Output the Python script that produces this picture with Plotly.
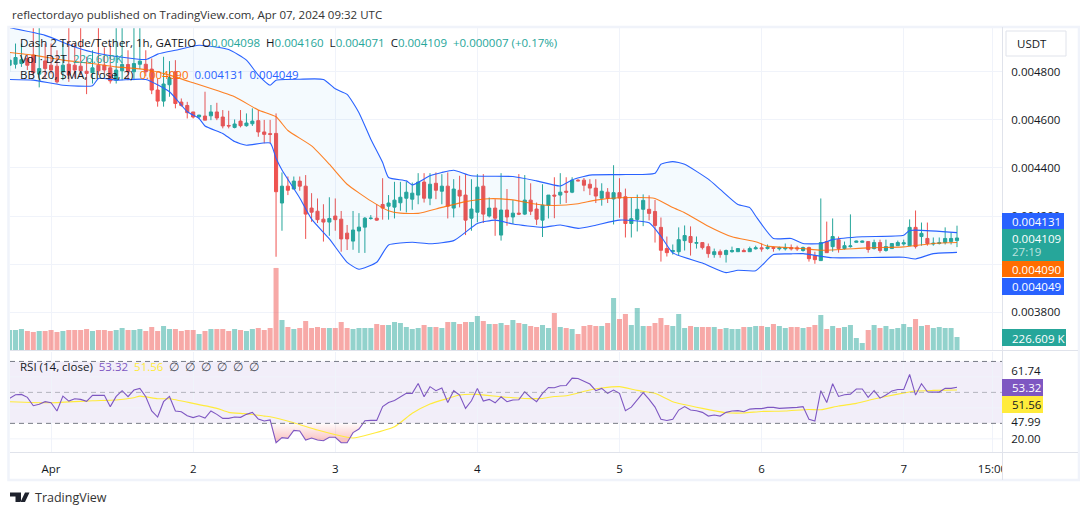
import pandas as pd
import plotly.graph_objects as go

# chart data. prices are in millionths of USDT
hours = pd.date_range("2024-03-31 17:00", periods=161, freq="h")
price_unit = 1e-6

opens = [
    4826, 4830, 4833, 4854, 4868, 4789, 4844, 4826, 4822, 4799,
    4830, 4826, 4822, 4801, 4795, 4826, 4826, 4815, 4764, 4803,
    4829, 4799, 4830, 4830, 4810, 4723, 4677, 4745, 4799, 4673,
    4659, 4632, 4612, 4615, 4616, 4632, 4611, 4576, 4568, 4594,
    4575, 4583, 4596, 4549, 4542, 4543, 4254, 4324, 4312, 4345,
    4324, 4233, 4220, 4187, 4175, 4200, 4187, 4129, 4096, 4138,
    4154, 4190, 4191, 4248, 4241, 4237, 4255, 4274, 4270, 4287,
    4341, 4274, 4336, 4303, 4324, 4233, 4307, 4287, 4191, 4216,
    4324, 4200, 4233, 4121, 4225, 4196, 4212, 4208, 4266, 4229,
    4183, 4245, 4287, 4287, 4303, 4299, 4349, 4349, 4332, 4316,
    4274, 4299, 4271, 4297, 4280, 4169, 4186, 4228, 4228, 4219,
    4153, 4065, 4052, 4052, 4098, 4115, 4087, 4090, 4073, 4040,
    4052, 4040, 4052, 4052, 4057, 4052, 4064, 4068, 4065, 4069,
    4064, 4064, 4069, 4068, 4057, 4069, 4036, 4015, 4094, 4073,
    4102, 4065, 4073, 4091, 4091, 4094, 4065, 4090, 4057, 4065,
    4077, 4084, 4077, 4153, 4115, 4107, 4084, 4086, 4090, 4094, 4098,
]
closes = [
    4847, 4858, 4849, 4826, 4795, 4812, 4812, 4806, 4757, 4826,
    4785, 4806, 4803, 4792, 4815, 4803, 4806, 4761, 4806, 4829,
    4799, 4833, 4843, 4799, 4723, 4677, 4748, 4775, 4667, 4659,
    4629, 4611, 4619, 4598, 4632, 4607, 4574, 4574, 4582, 4575,
    4586, 4594, 4549, 4539, 4539, 4301, 4324, 4307, 4345, 4324,
    4208, 4216, 4185, 4175, 4190, 4185, 4105, 4105, 4142, 4154,
    4191, 4191, 4183, 4233, 4254, 4266, 4278, 4299, 4295, 4341,
    4274, 4332, 4307, 4324, 4241, 4312, 4283, 4183, 4229, 4320,
    4208, 4233, 4191, 4225, 4196, 4212, 4208, 4266, 4220, 4187,
    4245, 4287, 4283, 4299, 4299, 4349, 4346, 4328, 4316, 4283,
    4303, 4274, 4297, 4275, 4169, 4189, 4228, 4265, 4211, 4161,
    4058, 4048, 4057, 4102, 4119, 4090, 4090, 4069, 4044, 4052,
    4040, 4057, 4057, 4065, 4052, 4065, 4068, 4064, 4071, 4066,
    4068, 4068, 4064, 4064, 4069, 4023, 4019, 4090, 4048, 4115,
    4065, 4077, 4076, 4096, 4096, 4061, 4090, 4057, 4073, 4086,
    4090, 4089, 4153, 4073, 4128, 4086, 4087, 4089, 4107, 4107, 4109,
]
highs = [
    4880, 4916, 4916, 4868, 4982, 4982, 4916, 4916, 4888, 4916,
    4982, 4916, 4982, 4861, 4888, 4982, 4900, 4916, 4982, 4982,
    4888, 4982, 4982, 4888, 4854, 4771, 4861, 4843, 4847, 4688,
    4674, 4632, 4620, 4716, 4661, 4670, 4640, 4637, 4601, 4640,
    4626, 4647, 4640, 4599, 4599, 4626, 4381, 4364, 4364, 4364,
    4370, 4295, 4273, 4249, 4278, 4273, 4221, 4163, 4221, 4212,
    4196, 4204, 4249, 4357, 4287, 4342, 4342, 4342, 4339, 4378,
    4378, 4378, 4381, 4374, 4381, 4353, 4367, 4374, 4353, 4374,
    4374, 4277, 4270, 4378, 4312, 4266, 4374, 4370, 4336, 4256,
    4332, 4287, 4361, 4378, 4361, 4361, 4353, 4358, 4353, 4353,
    4336, 4316, 4411, 4357, 4314, 4276, 4289, 4290, 4286, 4267,
    4194, 4115, 4082, 4153, 4161, 4157, 4115, 4090, 4086, 4065,
    4061, 4061, 4073, 4065, 4065, 4073, 4077, 4086, 4082, 4073,
    4073, 4086, 4082, 4077, 4073, 4073, 4052, 4273, 4177, 4190,
    4115, 4094, 4207, 4098, 4098, 4094, 4102, 4102, 4102, 4086,
    4098, 4102, 4186, 4223, 4173, 4173, 4111, 4111, 4153, 4132, 4160,
]
lows = [
    4800, 4812, 4819, 4806, 4785, 4734, 4771, 4792, 4750, 4764,
    4757, 4775, 4785, 4706, 4750, 4785, 4790, 4750, 4750, 4764,
    4764, 4764, 4810, 4780, 4706, 4654, 4654, 4695, 4647, 4654,
    4605, 4605, 4605, 4598, 4598, 4598, 4564, 4564, 4564, 4568,
    4571, 4574, 4529, 4502, 4502, 4031, 4139, 4287, 4312, 4305,
    4105, 4176, 4171, 4094, 4118, 4139, 4052, 4059, 4060, 4047,
    4047, 4185, 4180, 4185, 4185, 4190, 4222, 4215, 4226, 4249,
    4256, 4245, 4270, 4249, 4190, 4194, 4236, 4121, 4139, 4174,
    4171, 4194, 4118, 4098, 4160, 4167, 4204, 4204, 4204, 4163,
    4113, 4190, 4191, 4249, 4254, 4295, 4345, 4303, 4287, 4254,
    4243, 4254, 4165, 4193, 4111, 4111, 4136, 4158, 4182, 4090,
    4011, 4032, 4040, 4036, 4057, 4036, 4065, 4061, 4027, 4027,
    4027, 4007, 4048, 4052, 4052, 4052, 4061, 4052, 4061, 4052,
    4057, 4057, 4057, 4055, 4052, 4011, 4002, 4015, 4048, 4052,
    4048, 4061, 4069, 4090, 4090, 4048, 4061, 4048, 4052, 4065,
    4077, 4077, 4077, 4065, 4077, 4077, 4077, 4082, 4082, 4082, 4071,
]
# volume in thousands
volumes = [
    349, 349, 366, 331, 314, 331, 331, 349, 314, 331,
    349, 349, 349, 366, 331, 349, 349, 331, 349, 383,
    349, 349, 366, 331, 401, 331, 418, 366, 366, 331,
    349, 349, 279, 331, 366, 366, 366, 331, 366, 349,
    331, 366, 383, 349, 383, 1430, 523, 401, 366, 383,
    505, 383, 401, 383, 383, 383, 488, 383, 366, 383,
    383, 383, 453, 436, 436, 488, 471, 401, 366, 383,
    436, 401, 401, 383, 488, 488, 453, 488, 488, 593,
    505, 453, 453, 471, 436, 523, 471, 453, 418, 401,
    436, 383, 645, 401, 383, 366, 279, 418, 436, 418,
    418, 471, 906, 540, 628, 436, 732, 418, 418, 471,
    558, 436, 418, 628, 383, 418, 401, 401, 401, 401,
    366, 383, 366, 366, 401, 401, 418, 418, 401, 453,
    418, 383, 401, 401, 383, 401, 436, 610, 366, 418,
    383, 401, 436, 209, 122, 349, 436, 383, 418, 366,
    383, 453, 401, 540, 418, 436, 383, 401, 383, 383, 227,
]

# bollinger bands, read at the bars where the lines bend
upper_bars = [0, 6, 11, 15, 23, 25, 28, 32, 37, 40, 42, 44, 45, 49, 53, 55, 57, 59, 61, 63,
              64, 67, 68, 71, 73, 75, 78, 85, 89, 93, 95, 98, 103, 109, 110, 112, 114, 118,
              120, 123, 125, 126, 129, 132, 134, 137, 139, 144, 151, 152, 160]
upper_band = [4982, 4950, 4902, 4875, 4850, 4872, 4888, 4909, 4891, 4847, 4785, 4743, 4764, 4768, 4767, 4728, 4705, 4629, 4519, 4422,
              4360, 4346, 4329, 4367, 4381, 4390, 4367, 4364, 4346, 4325, 4350, 4370, 4372, 4378, 4415, 4426, 4415, 4353,
              4311, 4248, 4235, 4200, 4107, 4107, 4086, 4086, 4102, 4114, 4120, 4140, 4131]
lower_bars = [0, 4, 9, 14, 15, 18, 23, 27, 30, 32, 33, 36, 38, 40, 44, 45, 46, 49, 51, 54,
              57, 59, 62, 64, 68, 71, 75, 79, 82, 85, 90, 93, 96, 99, 103, 108, 110, 112, 117,
              121, 123, 126, 129, 132, 134, 139, 151, 153, 156, 160]
lower_band = [4767, 4764, 4743, 4741, 4771, 4764, 4767, 4716, 4633, 4605, 4574, 4543, 4509, 4494, 4503, 4440, 4391, 4275, 4187, 4105,
              4008, 3979, 4008, 4080, 4091, 4085, 4098, 4169, 4183, 4167, 4153, 4163, 4149, 4162, 4183, 4172, 4116, 4047, 4005,
              3965, 3975, 3973, 4040, 4043, 4044, 4027, 4029, 4022, 4044, 4049]
basis_bars = [0, 4, 9, 14, 18, 23, 27, 31, 38, 42, 45, 47, 51, 54, 57, 61, 64, 66, 69, 73, 77,
              81, 85, 89, 92, 96, 99, 103, 109, 112, 114, 118, 122, 126, 128, 134, 137, 145, 151, 156, 160]
basis_band = [4879, 4868, 4847, 4833, 4819, 4808, 4785, 4753, 4695, 4640, 4612, 4555, 4491, 4415, 4332, 4263, 4222, 4212, 4211, 4236, 4260,
              4272, 4267, 4249, 4244, 4251, 4266, 4276, 4273, 4235, 4214, 4158, 4114, 4093, 4075, 4065, 4058, 4068, 4072, 4086, 4090]

rsi = [
    46.1, 48.5, 48.7, 46.8, 41.4, 42.3, 44.0, 43.3, 38.0, 47.6,
    44.4, 45.9, 45.5, 44.2, 48.1, 48.1, 48.1, 40.8, 47.4, 51.1,
    47.2, 51.5, 52.6, 47.2, 38.0, 34.1, 44.0, 47.4, 38.0, 37.5,
    34.9, 33.7, 34.9, 33.4, 38.0, 35.8, 33.2, 33.2, 34.1, 33.9,
    35.8, 37.1, 32.8, 31.5, 32.2, 17.5, 20.8, 20.3, 25.5, 25.1,
    19.2, 20.5, 19.2, 18.8, 21.0, 21.0, 17.5, 17.5, 24.0, 26.3,
    31.7, 31.9, 31.9, 40.8, 43.5, 44.8, 47.2, 49.4, 49.4, 55.8,
    47.2, 53.7, 51.1, 52.8, 43.5, 51.1, 48.3, 39.7, 44.6, 52.6,
    44.4, 45.5, 43.3, 47.2, 44.0, 45.1, 45.3, 50.4, 46.8, 44.0,
    49.4, 53.2, 53.0, 54.3, 54.5, 59.2, 59.0, 57.1, 55.4, 51.1,
    52.6, 49.4, 51.5, 49.4, 38.2, 40.5, 45.1, 49.8, 45.5, 40.5,
    32.6, 31.9, 32.6, 38.6, 40.8, 38.6, 38.2, 37.1, 34.7, 35.4,
    34.7, 37.1, 38.0, 38.2, 37.5, 39.2, 39.5, 39.5, 40.3, 40.3,
    39.7, 39.9, 39.9, 40.3, 40.8, 32.6, 31.5, 51.1, 43.5, 55.6,
    47.4, 48.5, 48.9, 52.2, 52.2, 46.8, 51.1, 46.3, 48.3, 50.9,
    51.9, 51.9, 61.6, 48.3, 55.6, 50.4, 50.2, 50.2, 52.6, 52.6, 53.32,
]
rsi_ma_bars = [0, 7, 14, 18, 21, 22, 25, 27, 31, 35, 37, 40, 43, 44, 48, 52, 57, 58, 61, 65, 68, 71, 74, 76, 79, 83,
               87, 90, 92, 94, 98, 100, 103, 106, 109, 112, 117, 121, 124, 127, 131, 135, 137, 140, 143, 146, 150, 153, 156, 160]
rsi_ma = [44.0, 43.3, 44.6, 45.1, 46.6, 47.6, 45.9, 45.9, 42.9, 39.7, 37.1, 36.2, 34.7, 34.3, 30.4, 25.7, 21.0, 20.5, 23.1, 27.8, 36.5, 42.5, 46.1, 48.3, 48.7, 47.2,
          46.1, 46.1, 47.4, 47.8, 51.5, 52.8, 53.7, 51.3, 49.4, 44.0, 39.7, 36.9, 36.7, 37.7, 38.0, 39.0, 38.8, 41.2, 42.9, 45.7, 48.9, 50.9, 51.3, 51.56]

price_ticks = [4800, 4600, 4400, 4200, 4000, 3800]
# 0.004000 sits fully behind the last value tags in the picture
price_tick_labels = ["0.004800", "0.004600", "0.004400", "0.004200", "", "0.003800"]
rsi_ticks = [63.8, 31, 20]
rsi_tick_labels = ["61.74", "47.99", "20.00"]
rsi_grid = [60, 40, 20]
time_ticks = ["2024-04-01", "2024-04-02", "2024-04-03", "2024-04-04", "2024-04-05",
              "2024-04-06", "2024-04-07", "2024-04-07 15:00"]
time_tick_labels = ["Apr", "2", "3", "4", "5", "6", "7", "15:00"]

UP = "#26a69a"
DOWN = "#ef5350"
BLUE = "#2962ff"
GRID = "#f0f3fa"
LINE = "#e0e3eb"
TEXT = "#131722"
FONT = "Open Sans"
W, H = 1080, 515
PLOT_L, PLOT_R = 10, 1002


def px(x):
    return x / W


def py(y):
    return 1 - y / H


def scale(values):
    return [v * price_unit for v in values]


def box(x0, y0, x1, y1, color):
    return dict(type="rect", xref="paper", yref="paper", x0=px(x0), x1=px(x1), y0=py(y0), y1=py(y1),
                fillcolor=color, line_width=0, layer="above")


def label(x, y, text, color=TEXT, size=11.5, anchor="left"):
    return dict(xref="paper", yref="paper", x=px(x), y=py(y), text=text, showarrow=False,
                xanchor=anchor, yanchor="middle", align="left", font=dict(family=FONT, size=size, color=color))


fig = go.Figure()

# band fill and lines
smooth = dict(width=1.1, shape="spline", smoothing=0.5)
fig.add_trace(go.Scatter(x=hours[upper_bars], y=scale(upper_band), mode="lines",
                         line=dict(color=BLUE, **smooth), opacity=0.75))
fig.add_trace(go.Scatter(x=hours[lower_bars], y=scale(lower_band), mode="lines",
                         line=dict(color=BLUE, **smooth), opacity=0.75,
                         fill="tonexty", fillcolor="rgba(33,150,243,0.05)"))
fig.add_trace(go.Scatter(x=hours[basis_bars], y=scale(basis_band), mode="lines",
                         line=dict(color="#ff6d00", **smooth), opacity=0.85))

fig.add_trace(go.Candlestick(
    x=hours, open=scale(opens), high=scale(highs), low=scale(lows), close=scale(closes),
    increasing=dict(line=dict(color=UP, width=1), fillcolor=UP),
    decreasing=dict(line=dict(color=DOWN, width=1), fillcolor=DOWN),
    whiskerwidth=0,
))

vol_colors = ["rgba(38,166,154,0.5)" if c >= o else "rgba(239,83,80,0.5)" for o, c in zip(opens, closes)]
fig.add_trace(go.Bar(x=hours, y=volumes, marker=dict(color=vol_colors, line_width=0), yaxis="y2"))

# oversold shading under the 30 line
oversold_bars = list(range(44, 61))
fig.add_trace(go.Scatter(x=hours[oversold_bars], y=[30] * len(oversold_bars), mode="lines",
                         line=dict(width=0), xaxis="x2", yaxis="y3"))
fig.add_trace(go.Scatter(x=hours[oversold_bars], y=[min(rsi[i], 30) for i in oversold_bars], mode="lines",
                         line=dict(width=0), xaxis="x2", yaxis="y3", fill="tonexty",
                         fillgradient=dict(type="vertical", start=30, stop=17,
                                           colorscale=[[0, "rgba(239,83,80,0.02)"], [1, "rgba(239,83,80,0.4)"]])))

fig.add_trace(go.Scatter(x=hours[rsi_ma_bars], y=rsi_ma, mode="lines", line=dict(color="#ffeb3b", **smooth),
                         xaxis="x2", yaxis="y3"))
fig.add_trace(go.Scatter(x=hours, y=rsi, mode="lines", line=dict(color="#7e57c2", width=1.1),
                         xaxis="x2", yaxis="y3"))

x_range = ["2024-03-31 17:04", "2024-04-07 16:36"]
shapes = [
    # rsi band and its levels
    dict(type="rect", xref="x2 domain", yref="y3", x0=0, x1=1, y0=30, y1=70,
         fillcolor="rgba(126,87,194,0.1)", line_width=0, layer="below"),
    dict(type="line", xref="x2 domain", yref="y3", x0=0, x1=1, y0=70, y1=70, line=dict(color="#787b86", width=1, dash="5px,4px")),
    dict(type="line", xref="x2 domain", yref="y3", x0=0, x1=1, y0=50, y1=50, line=dict(color="rgba(120,123,134,0.5)", width=1, dash="5px,4px")),
    dict(type="line", xref="x2 domain", yref="y3", x0=0, x1=1, y0=30, y1=30, line=dict(color="#787b86", width=1, dash="5px,4px")),
    # frame and pane borders
    dict(type="rect", xref="paper", yref="paper", x0=px(8.5), x1=px(1079), y0=py(480), y1=py(27),
         line=dict(color=GRID, width=2.5), layer="above"),
    dict(type="line", xref="paper", yref="paper", x0=px(PLOT_L), x1=px(1078), y0=py(350.5), y1=py(350.5), line=dict(color=LINE, width=1), layer="above"),
    dict(type="line", xref="paper", yref="paper", x0=px(PLOT_L), x1=px(1078), y0=py(452.5), y1=py(452.5), line=dict(color=LINE, width=1), layer="above"),
    # hides the cut end of the last time label
    box(PLOT_R + 0.5, 454, 1077, 478, "white"),
    dict(type="line", xref="paper", yref="paper", x0=px(PLOT_R + 0.5), x1=px(PLOT_R + 0.5), y0=py(480), y1=py(27), line=dict(color=LINE, width=1), layer="above"),
    # last value tags
    box(1002, 213, 1064, 229, BLUE),
    box(1002, 229, 1064, 261, UP),
    box(1002, 261, 1064, 277, "#ff6d00"),
    box(1002, 278, 1064, 295, BLUE),
    box(1002, 329, 1066, 346, UP),
    box(1002, 379, 1043, 396, "#7e57c2"),
    box(1002, 396, 1043, 413, "#ffeb3b"),
    dict(type="rect", xref="paper", yref="paper", x0=px(1006), x1=px(1066), y0=py(56), y1=py(31),
         fillcolor="white", line=dict(color=LINE, width=1), layer="above"),
    # TradingView mark
    dict(type="path", xref="paper", yref="paper", fillcolor="#1e222d", line_width=0, layer="above",
         path=f"M {px(10)} {py(492.5)} L {px(21)} {py(492.5)} L {px(21)} {py(502)} L {px(15.5)} {py(502)} "
              f"L {px(15.5)} {py(496.5)} L {px(10)} {py(496.5)} Z "
              f"M {px(20.5)} {py(502)} L {px(25)} {py(492.5)} L {px(29.5)} {py(492.5)} L {px(25)} {py(502)} Z"),
]
# rsi pane has its own grid, the labelled ticks are not on it
for level in rsi_grid:
    shapes.append(dict(type="line", xref="x2 domain", yref="y3", x0=0, x1=1, y0=level, y1=level,
                       line=dict(color=GRID, width=1), layer="below"))

G = f'<span style="color:{UP}">'
annotations = [
    label(10, 15, "reflectordayo published on TradingView.com, Apr 07, 2024 09:32 UTC", color="#333"),
    label(18, 42, f"Dash 2 Trade/Tether, 1h, GATEIO  O{G}0.004098</span>  H{G}0.004160</span>  L{G}0.004071</span>  "
                  f"C{G}0.004109</span>  {G}+0.000007 (+0.17%)</span>"),
    label(18, 59, f"Vol · D2T  {G}226.609K</span>"),
    label(18, 75, 'BB (20, SMA, close, 2)  <span style="color:#ff6d00">0.004090</span>  '
                  f'<span style="color:{BLUE}">0.004131</span>  <span style="color:{BLUE}">0.004049</span>'),
    label(18, 366, 'RSI (14, close)  <span style="color:#7e57c2">53.32</span>  <span style="color:#ffeb3b">51.56</span>  '
                   '<span style="color:#434651">∅  ∅  ∅  ∅  ∅  ∅</span>'),
    label(1015, 44, "USDT"),
    label(1010, 221, "0.004131", color="white"),
    label(1010, 238, "0.004109", color="white"),
    label(1010, 252, "27:19", color="rgba(255,255,255,0.7)"),
    label(1010, 269, "0.004090", color="white"),
    label(1010, 286, "0.004049", color="white"),
    label(1010, 338, "226.609 K", color="white"),
    label(1010, 387, "53.32", color="white"),
    label(1010, 404, "51.56", color=TEXT),
    label(33, 497, "TradingView", color="#333", size=12.5),
]

fig.update_layout(
    width=W,
    height=H,
    margin=dict(l=0, r=0, t=0, b=0, autoexpand=False),
    paper_bgcolor="white",
    plot_bgcolor="white",
    showlegend=False,
    bargap=0.15,
    boxgap=0.25,
    font=dict(family=FONT, size=11.5, color=TEXT),
    shapes=shapes,
    annotations=annotations,
    xaxis=dict(domain=[px(PLOT_L), px(PLOT_R)], range=x_range, anchor="y", rangeslider=dict(visible=False),
               tickvals=time_ticks, showticklabels=False, showgrid=True, gridcolor=GRID, gridwidth=1, zeroline=False, ticks=""),
    xaxis2=dict(domain=[px(PLOT_L), px(PLOT_R)], range=x_range, anchor="y3", matches="x",
                tickvals=time_ticks, ticktext=time_tick_labels, showgrid=True, gridcolor=GRID, gridwidth=1, zeroline=False,
                ticks="outside", ticklen=6, tickcolor="rgba(0,0,0,0)", tickfont=dict(size=11.5, color=TEXT)),
    # 4.15 millionths per pixel, 0.0048 sits at y = 71.5
    yaxis=dict(domain=[py(350), py(28)], range=[3644 * price_unit, 4980.5 * price_unit], side="right", anchor="x",
               tickvals=scale(price_ticks), ticktext=price_tick_labels, showgrid=True, gridcolor=GRID, gridwidth=1,
               zeroline=False, ticks="outside", ticklen=6, tickcolor="rgba(0,0,0,0)"),
    yaxis2=dict(domain=[py(350), py(28)], range=[0, 5612], overlaying="y", side="left", visible=False, anchor="x"),
    yaxis3=dict(domain=[py(452), py(352)], range=[11.5, 76.1], side="right", anchor="x2",
                tickvals=rsi_ticks, ticktext=rsi_tick_labels, showgrid=False, zeroline=False,
                ticks="outside", ticklen=6, tickcolor="rgba(0,0,0,0)"),
)

fig.write_html("out.html", config=dict(displayModeBar=False), post_script="document.body.style.margin='0';")
